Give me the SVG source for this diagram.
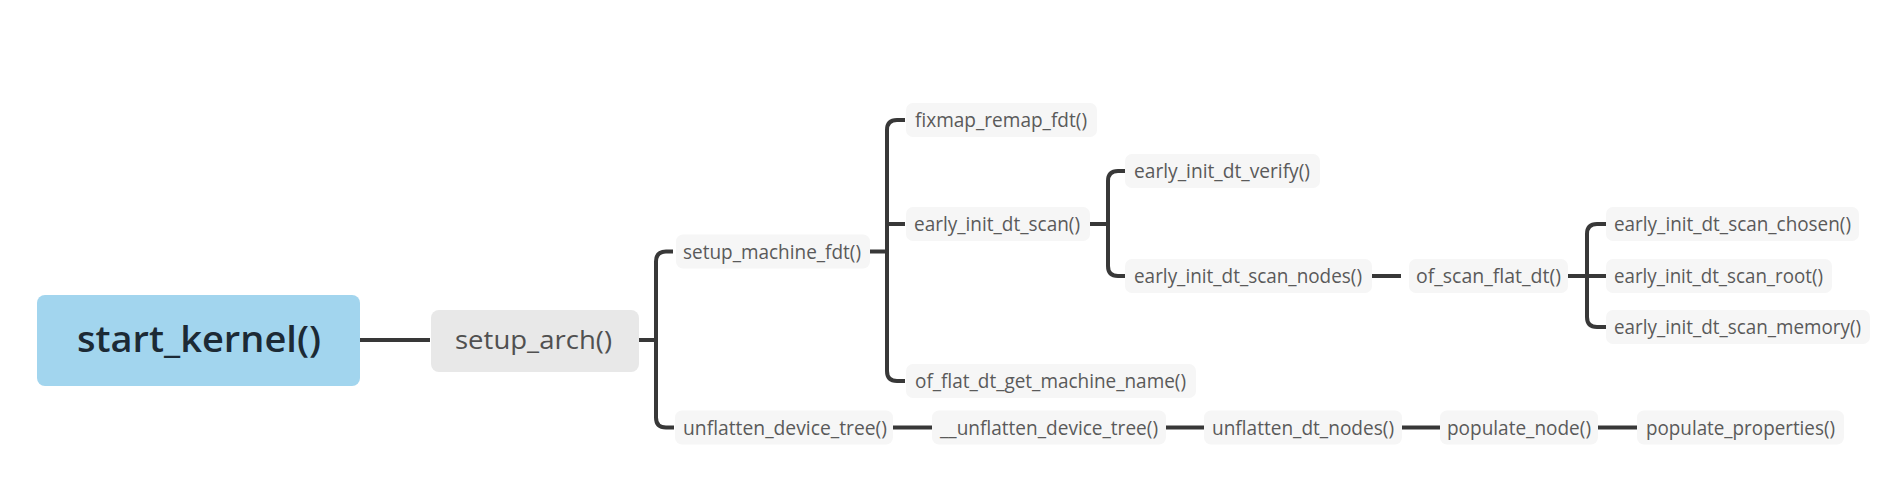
<svg xmlns="http://www.w3.org/2000/svg" width="1878" height="479" viewBox="0 0 1878 479">
<style>
.bg{fill:#ffffff}
.root rect{fill:#a2d5ee}
.root text{font-family:"Open Sans","Liberation Sans",sans-serif;font-size:36px;font-weight:600;fill:#1c2a35}
.main rect{fill:#e8e8e8}
.main text{font-family:"Open Sans","Liberation Sans",sans-serif;font-size:25px;fill:#505050}
.sub rect{fill:#f6f6f6}
.sub text{font-family:"Open Sans","Liberation Sans",sans-serif;font-size:20px;fill:#5a5a5a}
.conn path{fill:none;stroke:#383838;stroke-width:4;stroke-linecap:butt}
</style>
<rect class="bg" x="0" y="0" width="1878" height="479"/>
<g id="connectors" class="conn">
<path d="M360,340 H430"/>
<path d="M639,340 H656 M673,251.5 H666 Q656,251.5 656,261.5 V417.6 Q656,427.6 666,427.6 H674"/>
<path d="M870,251.5 H887 M905,120 H897 Q887,120 887,130 V371 Q887,381 897,381 H905 M887,224 H905"/>
<path d="M1090,224 H1108 M1125,171 H1118 Q1108,171 1108,181 V266 Q1108,276 1118,276 H1125"/>
<path d="M1372,276 H1401"/>
<path d="M1568,276 H1606 M1606,224 H1597 Q1587,224 1587,234 V317 Q1587,327 1597,327 H1606"/>
<path d="M893,427.6 H932 M1166,427.6 H1204 M1402,427.6 H1440 M1598,427.6 H1637"/>
</g>
<g id="n_start_kernel" class="root"><rect x="37" y="295" width="323" height="91" rx="8"/><text x="77" y="352" textLength="244" lengthAdjust="spacingAndGlyphs">start_kernel()</text></g>
<g id="n_setup_arch" class="main"><rect x="431" y="310" width="208" height="62" rx="8"/><text x="455" y="349" textLength="157" lengthAdjust="spacingAndGlyphs">setup_arch()</text></g>
<g id="n_setup_machine_fdt" class="sub"><rect x="676" y="234.5" width="194" height="34" rx="7"/><text x="683" y="258.5" textLength="178" lengthAdjust="spacingAndGlyphs">setup_machine_fdt()</text></g>
<g id="n_fixmap_remap_fdt" class="sub"><rect x="906" y="103" width="191" height="34" rx="7"/><text x="915" y="127" textLength="172" lengthAdjust="spacingAndGlyphs">fixmap_remap_fdt()</text></g>
<g id="n_early_init_dt_scan" class="sub"><rect x="906" y="207" width="184" height="34" rx="7"/><text x="914" y="231" textLength="166" lengthAdjust="spacingAndGlyphs">early_init_dt_scan()</text></g>
<g id="n_of_flat_dt_get_machine_name" class="sub"><rect x="906" y="364" width="290" height="34" rx="7"/><text x="915" y="388" textLength="271" lengthAdjust="spacingAndGlyphs">of_flat_dt_get_machine_name()</text></g>
<g id="n_early_init_dt_verify" class="sub"><rect x="1125" y="154" width="195" height="34" rx="7"/><text x="1134" y="178" textLength="176" lengthAdjust="spacingAndGlyphs">early_init_dt_verify()</text></g>
<g id="n_early_init_dt_scan_nodes" class="sub"><rect x="1125" y="259" width="247" height="34" rx="7"/><text x="1134" y="283" textLength="228" lengthAdjust="spacingAndGlyphs">early_init_dt_scan_nodes()</text></g>
<g id="n_of_scan_flat_dt" class="sub"><rect x="1409" y="259" width="159" height="34" rx="7"/><text x="1416" y="283" textLength="145" lengthAdjust="spacingAndGlyphs">of_scan_flat_dt()</text></g>
<g id="n_early_init_dt_scan_chosen" class="sub"><rect x="1606" y="207" width="253" height="34" rx="7"/><text x="1614" y="231" textLength="237" lengthAdjust="spacingAndGlyphs">early_init_dt_scan_chosen()</text></g>
<g id="n_early_init_dt_scan_root" class="sub"><rect x="1606" y="259" width="226" height="34" rx="7"/><text x="1614" y="283" textLength="209" lengthAdjust="spacingAndGlyphs">early_init_dt_scan_root()</text></g>
<g id="n_early_init_dt_scan_memory" class="sub"><rect x="1606" y="310" width="264" height="34" rx="7"/><text x="1614" y="334" textLength="247" lengthAdjust="spacingAndGlyphs">early_init_dt_scan_memory()</text></g>
<g id="n_unflatten_device_tree" class="sub"><rect x="675" y="410.5" width="218" height="34" rx="7"/><text x="683" y="434.5" textLength="204" lengthAdjust="spacingAndGlyphs">unflatten_device_tree()</text></g>
<g id="n___unflatten_device_tree" class="sub"><rect x="932" y="410.5" width="234" height="34" rx="7"/><text x="940" y="434.5" textLength="218" lengthAdjust="spacingAndGlyphs">__unflatten_device_tree()</text></g>
<g id="n_unflatten_dt_nodes" class="sub"><rect x="1204" y="410.5" width="198" height="34" rx="7"/><text x="1212" y="434.5" textLength="182" lengthAdjust="spacingAndGlyphs">unflatten_dt_nodes()</text></g>
<g id="n_populate_node" class="sub"><rect x="1440" y="410.5" width="158" height="34" rx="7"/><text x="1447" y="434.5" textLength="144" lengthAdjust="spacingAndGlyphs">populate_node()</text></g>
<g id="n_populate_properties" class="sub"><rect x="1637" y="410.5" width="207" height="34" rx="7"/><text x="1646" y="434.5" textLength="189" lengthAdjust="spacingAndGlyphs">populate_properties()</text></g>
</svg>
